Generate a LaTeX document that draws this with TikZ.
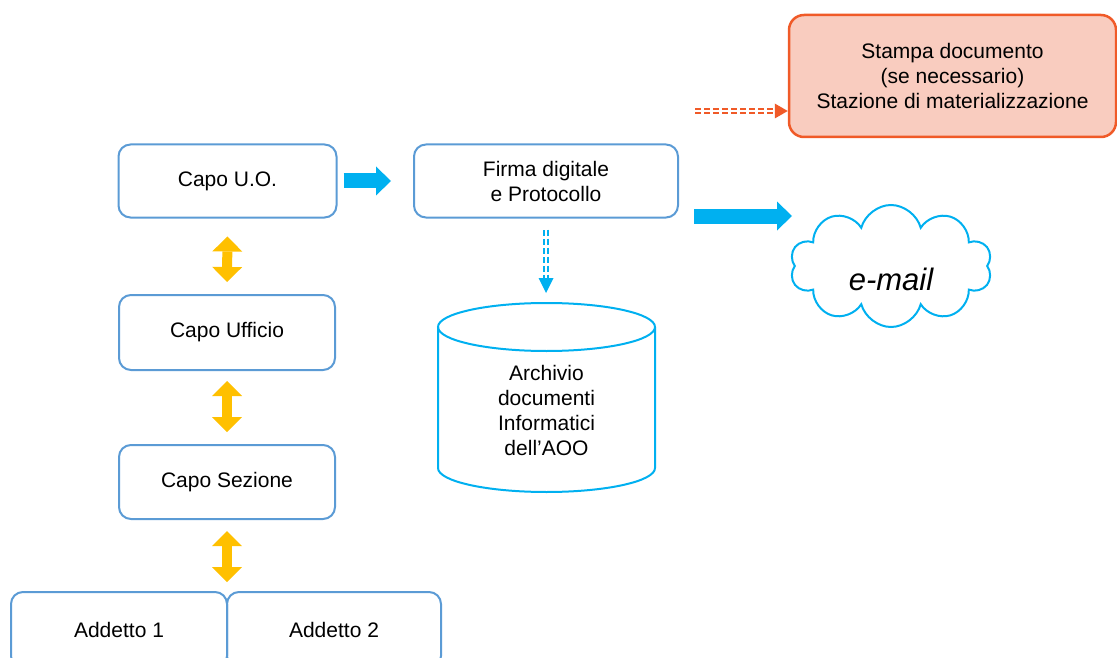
\documentclass[tikz,border=0pt]{standalone}
\usepackage{fontspec}
\setmainfont{Liberation Sans}
\usetikzlibrary{arrows.meta}
\usetikzlibrary{shapes.symbols}
\definecolor{boxblue}{RGB}{91,155,213}
\definecolor{arrowblue}{RGB}{0,176,240}
\definecolor{yellowarr}{RGB}{255,192,0}
\definecolor{printred}{RGB}{240,90,40}
\definecolor{printfill}{RGB}{249,204,191}
\tikzset{
	unitbox/.style={draw=boxblue, line width=2pt, rounded corners=12pt, align=center, inner sep=0pt},
	bluearrow/.style={arrowblue, line width=15pt, -{Triangle[width=29pt,length=15pt,line width=0pt]}},
	yellowarrow/.style={yellowarr, line width=10pt, {Triangle[width=30pt,length=15pt,line width=0pt]}-{Triangle[width=30pt,length=15pt,line width=0pt]}},
	dashpair/.style={double, double distance=2.2pt, line width=1.5pt, dash pattern=on 6pt off 3pt},
}

\begin{document}
\begin{tikzpicture}[x=1pt, y=-1pt, every node/.style={font=\fontsize{21}{25}\selectfont}]
		\useasboundingbox (0,0) rectangle (1117,658);
		% chain of command
		\node[unitbox, minimum width=218, minimum height=73] (capouo) at (227.5,181) {Capo U.O.};
		\node[unitbox, minimum width=216, minimum height=75] (capoufficio) at (227,332.5) {Capo Ufficio};
		\node[unitbox, minimum width=216, minimum height=74] (caposezione) at (227,482) {Capo Sezione};
		\node[unitbox, minimum width=216, minimum height=76] (addetto1) at (119,630) {Addetto 1};
		\node[unitbox, minimum width=214, minimum height=76] (addetto2) at (334,630) {Addetto 2};
		\draw[yellowarrow, shorten <=18pt, shorten >=12pt] (capouo) -- (capoufficio);
		\draw[yellowarrow, shorten <=10pt, shorten >=12pt] (capoufficio) -- (caposezione);
		\draw[yellowarrow, shorten <=11pt, shorten >=9pt] (caposezione) -- (caposezione |- addetto1.north);
		% signature
		\node[unitbox, minimum width=264, minimum height=73] (firma) at (546,181) {Firma digitale\\e Protocollo};
		\draw[bluearrow, shorten <=6pt, shorten >=22pt] (capouo) -- (firma);
		% archive
		\draw[arrowblue, line width=2pt] (438,327) -- (438,468) arc[start angle=180, end angle=0, x radius=108.5, y radius=24] -- (655,327);
		\draw[arrowblue, line width=2pt] (546.5,327) ellipse [x radius=108.5, y radius=24];
		\node[align=center] (archivio) at (546.5,410) {Archivio\\documenti\\Informatici\\dell’AOO};
		\coordinate (archtop) at (546,293);
		\draw[dashpair, arrowblue, -{Triangle[width=15pt,length=15pt,line width=0pt]}, shorten <=11pt] (firma) -- (archtop);
		% mail
		\node[cloud, cloud puffs=10, aspect=1.7, draw=arrowblue, line width=2pt, minimum width=202, minimum height=122] (mail) at (891,266) {};
		\node[font=\fontsize{31}{36}\selectfont\itshape] (mailtxt) at (891,279) {e-mail};
		\coordinate (mailin) at (792,216);
		\draw[bluearrow, shorten <=15pt] (firma.east |- mailin) -- (mailin);
		% print station
		\node[unitbox, draw=printred, fill=printfill, line width=2.5pt, rounded corners=15pt, minimum width=327, minimum height=122] (stampa) at (952.5,76) {Stampa documento\\(se necessario)\\Stazione di materializzazione};
		\coordinate (printfrom) at (695,111);
		\draw[dashpair, printred, -{Triangle[width=15pt,length=13pt,line width=0pt]}] (printfrom) -- (printfrom -| stampa.west);
	\end{tikzpicture}
\end{document}
